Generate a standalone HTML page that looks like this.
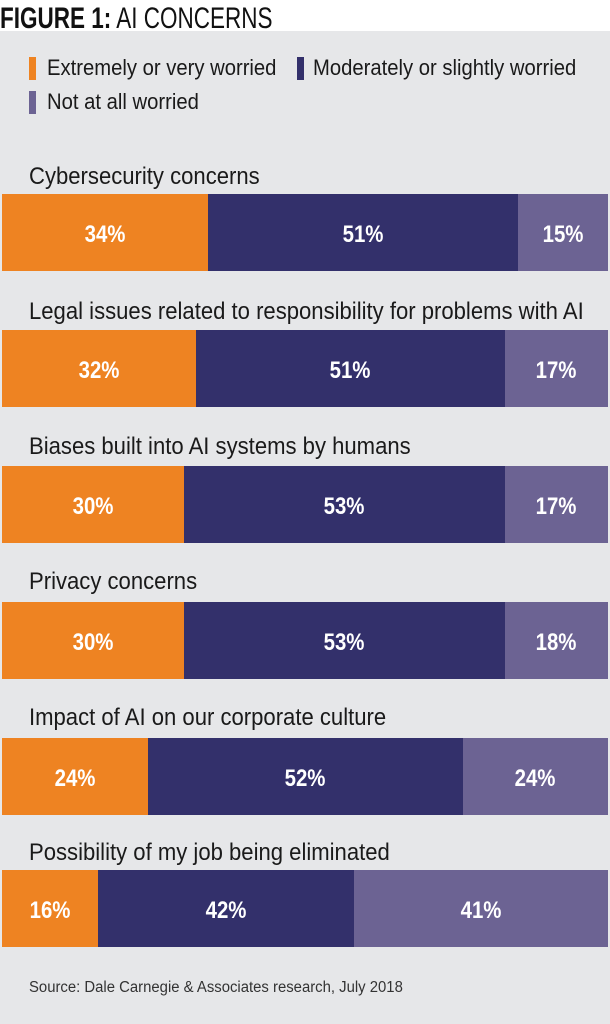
<!DOCTYPE html>
<html><head><meta charset="utf-8"><style>
body{margin:0;width:610px;height:1024px;background:#fff;font-family:"Liberation Sans",sans-serif;position:relative;overflow:hidden}
.bg{position:absolute;left:0;top:31px;width:610px;height:993px;background:#e6e7e9}
.t{position:absolute;white-space:nowrap;transform-origin:left top}
.bar{position:absolute;left:2px;width:606px;height:77px;display:flex}
.bar div{height:100%;display:flex;align-items:center;justify-content:center;color:#fff;font-weight:bold;font-size:24px}
.bar div span{display:inline-block;transform:scaleX(0.85);margin-top:4px}
.o{background:#ee8322}.d{background:#33306b}.l{background:#6c6393}
.lab{font-size:24px;color:#1a1a1a;transform:scaleX(0.92)}
.mk{position:absolute;width:7px;height:23px}
</style></head><body>
<div class="bg"></div>
<div class="t" style="left:0;top:2px;font-size:30px;color:#111;transform:scaleX(0.75)"><b>FIGURE 1:</b> AI CONCERNS</div>
<div class="mk o" style="left:29px;top:57px"></div>
<div class="t lab" style="left:47px;top:55px;font-size:22px">Extremely or very worried</div>
<div class="mk d" style="left:297px;top:57px"></div>
<div class="t lab" style="left:313px;top:55px;font-size:22px">Moderately or slightly worried</div>
<div class="mk l" style="left:29px;top:91px"></div>
<div class="t lab" style="left:47px;top:89px;font-size:22px">Not at all worried</div>

<div class="t lab" style="left:29px;top:163px">Cybersecurity concerns</div>
<div class="bar" style="top:194px"><div class="o" style="width:206px"><span>34%</span></div><div class="d" style="width:310px"><span>51%</span></div><div class="l" style="flex:1"><span>15%</span></div></div>

<div class="t lab" style="left:29px;top:298px">Legal issues related to responsibility for problems with AI</div>
<div class="bar" style="top:330px"><div class="o" style="width:194px"><span>32%</span></div><div class="d" style="width:309px"><span>51%</span></div><div class="l" style="flex:1"><span>17%</span></div></div>

<div class="t lab" style="left:29px;top:433px">Biases built into AI systems by humans</div>
<div class="bar" style="top:466px"><div class="o" style="width:182px"><span>30%</span></div><div class="d" style="width:321px"><span>53%</span></div><div class="l" style="flex:1"><span>17%</span></div></div>

<div class="t lab" style="left:29px;top:568px">Privacy concerns</div>
<div class="bar" style="top:602px"><div class="o" style="width:182px"><span>30%</span></div><div class="d" style="width:321px"><span>53%</span></div><div class="l" style="flex:1"><span>18%</span></div></div>

<div class="t lab" style="left:29px;top:704px">Impact of AI on our corporate culture</div>
<div class="bar" style="top:738px"><div class="o" style="width:146px"><span>24%</span></div><div class="d" style="width:315px"><span>52%</span></div><div class="l" style="flex:1"><span>24%</span></div></div>

<div class="t lab" style="left:29px;top:839px">Possibility of my job being eliminated</div>
<div class="bar" style="top:870px"><div class="o" style="width:96px"><span>16%</span></div><div class="d" style="width:256px"><span>42%</span></div><div class="l" style="flex:1"><span>41%</span></div></div>

<div class="t" style="left:29px;top:979px;font-size:15.5px;color:#333;transform:scaleX(0.96)">Source: Dale Carnegie &amp; Associates research, July 2018</div>
</body></html>
